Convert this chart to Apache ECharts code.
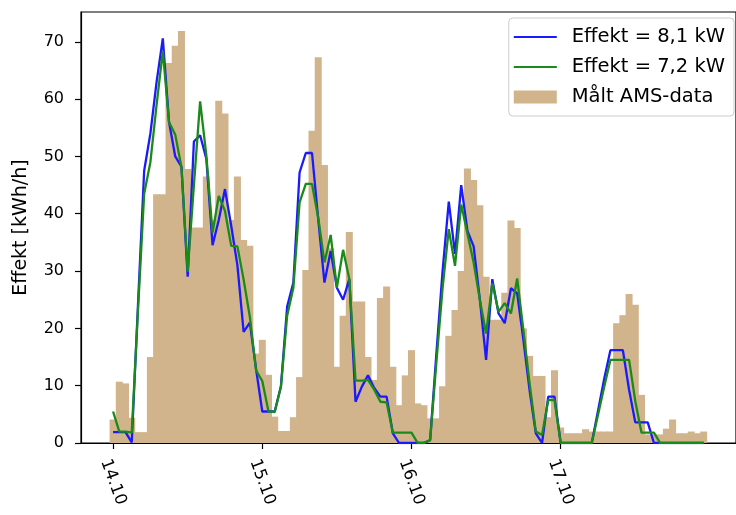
<!DOCTYPE html>
<html>
<head>
<meta charset="utf-8">
<script src="https://cdn.jsdelivr.net/npm/echarts@6/dist/echarts.min.js"></script>
<style>
html,body{margin:0;padding:0;background:#fff;}
#chart{width:736px;height:515px;}
</style>
</head>
<body>
<div id="chart"></div>
<script>
// Hours since 14.10 00:00
const hours = Array.from({length: 96}, (_, i) => i);

// Measured AMS data (kWh/h), one bar per hour
const amsData = [
  4.1, 10.7, 10.4, 4.4, 1.9, 1.9, 15.0, 43.4, 43.4, 66.3, 69.3, 71.9,
  47.8, 37.6, 37.6, 46.5, 38.9, 59.7, 57.5, 38.9, 46.5, 35.4, 34.4, 15.6,
  18.0, 11.9, 4.6, 2.1, 2.1, 4.5, 11.5, 30.2, 54.5, 67.3, 48.5, 34.0,
  13.3, 22.2, 36.8, 24.7, 24.7, 15.0, 11.0, 25.3, 27.3, 13.3, 6.6, 11.8,
  16.2, 6.9, 6.6, 4.3, 4.3, 9.9, 18.7, 23.2, 30.0, 47.9, 45.9, 41.5,
  29.0, 21.5, 21.5, 26.2, 38.8, 37.5, 20.0, 15.2, 11.7, 11.7, 4.5, 12.7,
  2.7, 1.7, 1.7, 1.7, 2.4, 2.0, 2.0, 2.0, 2.0, 20.9, 22.3, 26.0,
  24.1, 8.4, 1.5, 1.5, 1.5, 2.5, 4.1, 1.7, 1.7, 2.0, 1.7, 2.0
];

// Simulated power, Effekt = 8,1 kW
const effekt81 = [
  1.9, 1.9, 1.9, 0.1, 24.0, 47.5, 54.0, 63.0, 70.6, 56.0, 50.0, 48.2,
  29.0, 52.6, 53.7, 49.6, 34.5, 38.9, 44.3, 37.9, 31.0, 19.4, 21.0, 12.9,
  5.5, 5.5, 5.5, 9.9, 23.8, 28.0, 47.2, 50.6, 50.6, 39.0, 28.0, 33.5,
  27.1, 25.0, 28.6, 7.2, 9.8, 11.8, 9.6, 8.1, 8.1, 1.7, 0, 0,
  0, 0, 0, 0.5, 15.5, 30.0, 42.1, 33.0, 45.0, 37.0, 34.3, 25.0,
  14.5, 28.6, 22.6, 20.9, 27.0, 26.1, 18.0, 9.2, 1.7, 0, 8.1, 8.1,
  0, 0, 0, 0, 0, 0, 5.6, 11.2, 16.2, 16.2, 16.2, 9.3,
  3.6, 3.6, 3.6, 0, 0, 0, 0, 0, 0, 0, 0, 0
];

// Simulated power, Effekt = 7,2 kW
const effekt72 = [
  5.5, 2.0, 2.0, 1.8, 23.0, 43.5, 49.0, 59.0, 68.4, 56.0, 53.8, 48.1,
  29.9, 45.0, 59.6, 50.2, 36.7, 43.1, 40.5, 34.4, 34.3, 28.5, 22.0, 12.7,
  10.8, 5.5, 5.4, 9.8, 22.2, 27.1, 42.0, 45.2, 45.2, 39.3, 31.5, 36.3,
  27.1, 33.7, 28.6, 10.9, 10.9, 11.0, 9.3, 7.2, 7.1, 1.8, 1.8, 1.8,
  1.8, 0, 0, 0.5, 14.0, 27.0, 37.3, 30.9, 41.6, 36.5, 31.5, 25.0,
  19.1, 27.9, 22.9, 24.4, 22.6, 28.7, 19.7, 10.4, 2.0, 1.4, 7.5, 7.5,
  0, 0, 0, 0, 0, 0, 4.9, 9.8, 14.5, 14.5, 14.5, 14.5,
  7.3, 1.8, 1.8, 1.8, 0, 0, 0, 0, 0, 0, 0, 0
];

// X tick positions (hours) and labels
const xTickValues = [0, 24, 48, 72];
const xTickLabels = ['14.10', '15.10', '16.10', '17.10'];

const seriesNames = ['Effekt = 8,1 kW', 'Effekt = 7,2 kW', 'Målt AMS-data'];

const chart = echarts.init(document.getElementById('chart'), null, {renderer: 'canvas'});
const FONT = 'DejaVu Sans';
const TAN = '#D2B48C';
const lineIcon = 'path://M0,0 L43,0 L43,2.2 L0,2.2 Z';

const option = {
  animation: false,
  backgroundColor: '#ffffff',
  grid: {
    left: 81, top: 12, bottom: 72, right: -9,
    show: true, borderColor: '#000', borderWidth: 1.2, backgroundColor: 'transparent'
  },
  legend: {
    data: [
      {name: seriesNames[0], icon: lineIcon, itemStyle: {color: '#1a1aff'}},
      {name: seriesNames[1], icon: lineIcon, itemStyle: {color: '#1a8a1a'}},
      {name: seriesNames[2], icon: 'rect'}
    ],
    orient: 'vertical',
    right: 2, top: 18,
    itemWidth: 43, itemHeight: 13, itemGap: 10,
    symbolKeepAspect: true,
    padding: [9, 9, 9, 5],
    backgroundColor: 'rgba(255,255,255,0.8)',
    borderColor: '#cccccc', borderWidth: 1, borderRadius: 4,
    textStyle: {fontFamily: FONT, fontSize: 19.5, color: '#000', lineHeight: 20, padding: [0, 0, 0, 10]}
  },
  xAxis: {
    type: 'value',
    min: -5.16, max: 100.2,
    axisLine: {show: true, onZero: false, lineStyle: {color: '#000', width: 1.2}},
    axisTick: {show: true, customValues: xTickValues, length: 6, lineStyle: {color: '#000', width: 1.2}},
    axisLabel: {
      customValues: xTickValues,
      formatter: v => xTickLabels[xTickValues.indexOf(v)],
      rotate: -70, margin: 14, verticalAlign: 'top',
      fontFamily: FONT, fontSize: 16.5, color: '#000'
    },
    splitLine: {show: false}
  },
  yAxis: {
    type: 'value',
    min: 0, max: 75.2, interval: 10,
    name: 'Effekt [kWh/h]',
    nameLocation: 'middle', nameGap: 50, nameRotate: 90,
    nameTextStyle: {fontFamily: FONT, fontSize: 19, color: '#000'},
    axisLine: {show: true, onZero: false, lineStyle: {color: '#000', width: 1.2}},
    axisTick: {show: true, length: 6, lineStyle: {color: '#000', width: 1.2}},
    axisLabel: {margin: 17, fontFamily: FONT, fontSize: 16, color: '#000',
      showMaxLabel: false},
    splitLine: {show: false}
  },
  series: [
    {
      name: seriesNames[2],
      type: 'custom',
      z: 1,
      itemStyle: {color: TAN},
      renderItem: function (params, api) {
        const x = api.value(0), y = api.value(1);
        const p0 = api.coord([x - 0.5, y]);
        const p1 = api.coord([x + 0.5, 0]);
        return {
          type: 'rect',
          shape: {x: p0[0] - 0.4, y: p0[1], width: p1[0] - p0[0] + 0.8, height: p1[1] - p0[1]},
          style: {fill: TAN, stroke: null}
        };
      },
      data: hours.map((h, i) => [h, amsData[i]])
    },
    {
      name: seriesNames[0],
      type: 'line',
      z: 3,
      symbol: 'none',
      color: '#1a1aff',
      lineStyle: {color: '#1a1aff', width: 2.3},
      data: hours.map((h, i) => [h, effekt81[i]])
    },
    {
      name: seriesNames[1],
      type: 'line',
      z: 4,
      symbol: 'none',
      color: '#1a8a1a',
      lineStyle: {color: '#1a8a1a', width: 2.3},
      data: hours.map((h, i) => [h, effekt72[i]])
    }
  ]
};
chart.setOption(option);
</script>
</body>
</html>
